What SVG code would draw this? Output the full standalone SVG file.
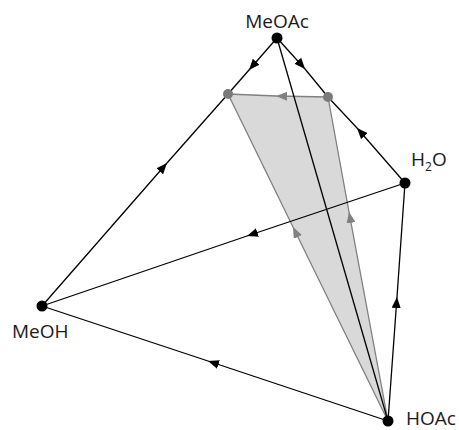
<svg xmlns="http://www.w3.org/2000/svg" width="459" height="430" viewBox="0 0 459 430">
  <style>
    .edge { fill: none; stroke: #000; stroke-width: 1.3; }
    .gedge { fill: none; stroke: #808080; stroke-width: 1.3; }
    .node { fill: #000; }
    .gnode { fill: #7a7a7a; }
    .lbl { font-family: "Open Sans", "Liberation Sans", sans-serif; font-size: 19px; fill: #1a1a1a; }
  </style>
  <defs>
    <marker id="arr" viewBox="0 0 11 9" refX="11" refY="4.5" markerWidth="11" markerHeight="9" markerUnits="userSpaceOnUse" orient="auto">
      <path d="M0,0 L11,4.5 L0,9 Z" fill="#000"/>
    </marker>
    <marker id="garr" viewBox="0 0 11 9" refX="11" refY="4.5" markerWidth="11" markerHeight="9" markerUnits="userSpaceOnUse" orient="auto">
      <path d="M0,0 L11,4.5 L0,9 Z" fill="#808080"/>
    </marker>
  </defs>

  <!-- shaded region between the two intermediate points and HOAc -->
  <polygon points="228,94 328,97 388,421" fill="#d9d9d9" stroke="none"/>

  <g id="connectors">
    <!-- gray boundaries of the shaded region -->
    <path class="gedge" d="M388,421 L293,227 L228,94" marker-mid="url(#garr)"/>
    <path class="gedge" d="M388,421 L349,212 L328,97" marker-mid="url(#garr)"/>
    <path class="gedge" d="M328,97 L276,96 L228,94" marker-mid="url(#garr)"/>

    <!-- outer edges -->
    <path class="edge" d="M42,306 L167,163 L228,94" marker-mid="url(#arr)"/>
    <path class="edge" d="M277,38 L249,70 L228,94" marker-mid="url(#arr)"/>
    <path class="edge" d="M277,38 L305,69 L328,97" marker-mid="url(#arr)"/>
    <path class="edge" d="M405,183 L357,128 L328,97" marker-mid="url(#arr)"/>
    <path class="edge" d="M405,183 L247,236 L42,306" marker-mid="url(#arr)"/>
    <path class="edge" d="M388,421 L208,361 L42,306" marker-mid="url(#arr)"/>
    <path class="edge" d="M388,421 L397,297 L405,183" marker-mid="url(#arr)"/>
    <path class="edge" d="M277,38 L388,421"/>
  </g>

  <g id="MeOAc">
    <circle class="node" cx="277" cy="38" r="5.5"/>
    <text class="lbl" x="277" y="28" text-anchor="middle">MeOAc</text>
  </g>
  <g id="H2O">
    <circle class="node" cx="405" cy="183" r="5.5"/>
    <text class="lbl" x="411" y="166">H<tspan font-size="12" dy="5">2</tspan><tspan dy="-5">O</tspan></text>
  </g>
  <g id="MeOH">
    <circle class="node" cx="42" cy="306" r="5.5"/>
    <text class="lbl" x="12" y="338">MeOH</text>
  </g>
  <g id="HOAc">
    <circle class="node" cx="388" cy="421" r="5.5"/>
    <text class="lbl" x="406" y="425">HOAc</text>
  </g>
  <g id="P1">
    <circle class="gnode" cx="228" cy="94" r="5"/>
  </g>
  <g id="P2">
    <circle class="gnode" cx="328" cy="97" r="5"/>
  </g>
</svg>
